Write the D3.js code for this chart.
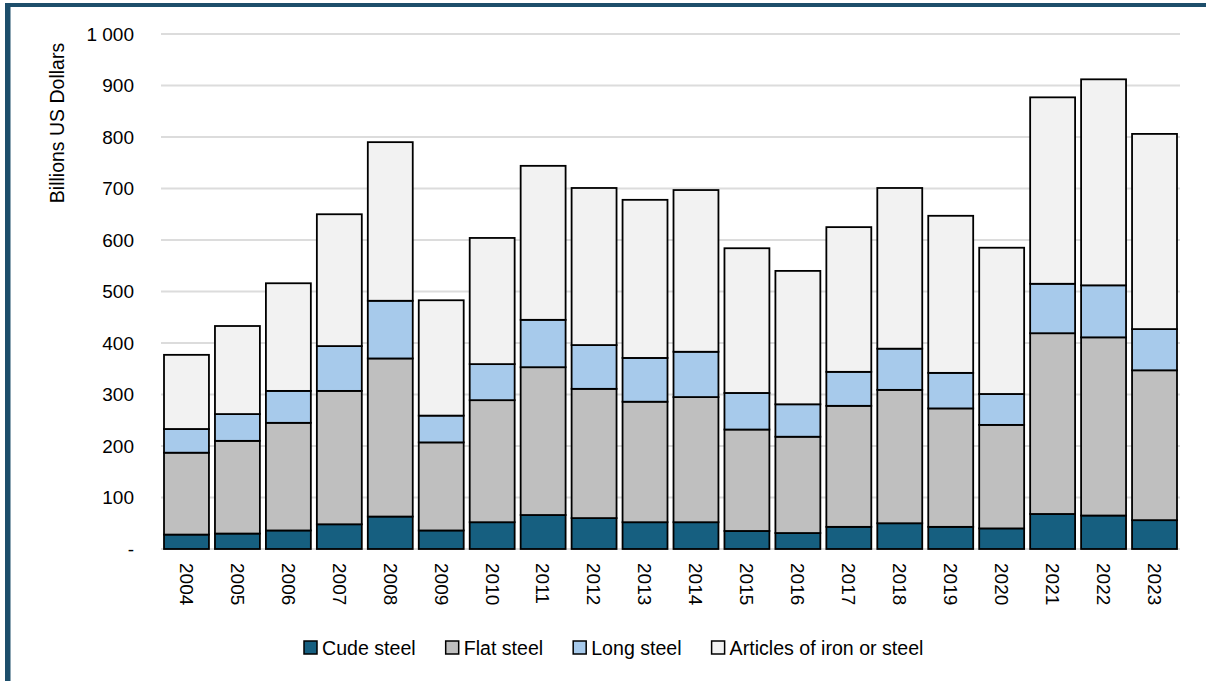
<!DOCTYPE html>
<html>
<head>
<meta charset="utf-8">
<script src="https://cdn.jsdelivr.net/npm/d3@7"></script>
<style>
  body { margin: 0; background: #fff; }
  svg { display: block; font-family: "Liberation Sans", Arial, sans-serif; }
</style>
</head>
<body>
<svg id="steel-chart" width="1206" height="681"></svg>
<script>
// ------------------ Steel exports by product type ------------------ //
const years = ["2004", "2005", "2006", "2007", "2008", "2009", "2010", "2011", "2012", "2013",
    "2014", "2015", "2016", "2017", "2018", "2019", "2020", "2021", "2022", "2023"];
const crudeSteel = [28, 30, 36, 48, 63, 36, 52, 66, 60, 52, 52, 35, 31, 43, 50, 43, 40, 68, 65, 56];
const flatSteel = [159, 180, 209, 259, 307, 171, 237, 287, 251, 234, 243, 197, 187, 235, 259, 230, 201, 351, 346, 291];
const longSteel = [46, 52, 62, 87, 112, 52, 70, 92, 85, 85, 88, 71, 63, 66, 80, 69, 60, 96, 101, 80];
const articles = [144, 171, 209, 256, 308, 224, 245, 299, 305, 307, 314, 281, 259, 281, 312, 305, 284, 362, 400, 379];
const seriesNames = ["Cude steel", "Flat steel", "Long steel", "Articles of iron or steel"];
const yTicks = [0, 100, 200, 300, 400, 500, 600, 700, 800, 900, 1000];

const svg = d3.select("#steel-chart"),
    width = +svg.attr("width"),
    height = +svg.attr("height"),
    margin = { top: 34, right: 26, bottom: 132, left: 161 },
    chartWidth = width - margin.left - margin.right,
    chartHeight = height - margin.top - margin.bottom;

// frame (top + left edges only)
svg.append("rect").attr("x", 0).attr("y", 0).attr("width", width).attr("height", height).attr("fill", "#fff");
svg.append("rect").attr("x", 5).attr("y", 3).attr("width", width - 5).attr("height", 4).attr("fill", "#1d4e6b");
svg.append("rect").attr("x", 5).attr("y", 3).attr("width", 5.5).attr("height", height - 3).attr("fill", "#1d4e6b");

const chart = svg.append("g")
    .attr("transform", `translate(${margin.left},${margin.top})`);

const tableData = years.map((yr, i) => ({
    year: yr,
    "Cude steel": crudeSteel[i],
    "Flat steel": flatSteel[i],
    "Long steel": longSteel[i],
    "Articles of iron or steel": articles[i]
}));

const stacked = d3.stack().keys(seriesNames)(tableData);

// Scales
const x = d3.scaleBand()
    .domain(years)
    .range([0, chartWidth])
    .paddingInner(0.118)
    .paddingOuter(0.059);

const y = d3.scaleLinear()
    .domain([0, 1000])
    .range([chartHeight, 0]);

const color = d3.scaleOrdinal()
    .domain(seriesNames)
    .range(["#165f80", "#bfbfbf", "#a7caeb", "#f2f2f2"]);

// gridlines
chart.append("g")
    .selectAll("line")
    .data(yTicks)
    .join("line")
    .attr("x1", 0)
    .attr("x2", chartWidth)
    .attr("y1", d => y(d))
    .attr("y2", d => y(d))
    .attr("stroke", "#dcdcdc")
    .attr("stroke-width", 2);

// Y axis labels
const yAxis = chart.append("g")
    .attr("transform", "translate(-27,0)")
    .call(d3.axisLeft(y).tickValues(yTicks).tickSize(0).tickPadding(0)
        .tickFormat(d => d === 0 ? "-" : d3.format(",")(d).replace(",", " ")));
yAxis.select(".domain").remove();
yAxis.selectAll("text")
    .style("font-size", "19px")
    .style("font-family", "Liberation Sans, Arial, sans-serif")
    .attr("fill", "#000");

// bars
chart.append("g")
    .selectAll("g")
    .data(stacked)
    .join("g")
    .attr("fill", d => color(d.key))
    .selectAll("rect")
    .data(d => d)
    .join("rect")
    .attr("x", d => x(d.data.year))
    .attr("y", d => y(d[1]))
    .attr("width", x.bandwidth())
    .attr("height", d => y(d[0]) - y(d[1]))
    .attr("stroke", "#000")
    .attr("stroke-width", 1.8);

// X axis labels (rotated)
const xAxis = chart.append("g")
    .attr("transform", `translate(0,${chartHeight + 14})`)
    .call(d3.axisBottom(x).tickSize(0).tickPadding(0));
xAxis.select(".domain").remove();
xAxis.selectAll("text")
    .attr("transform", "rotate(90)")
    .attr("x", 0)
    .attr("y", 0)
    .attr("dy", "0.35em")
    .attr("text-anchor", "start")
    .style("font-size", "19px")
    .style("font-family", "Liberation Sans, Arial, sans-serif")
    .attr("fill", "#000");

// Y axis title
svg.append("text")
    .attr("transform", "translate(64,123) rotate(-90)")
    .attr("text-anchor", "middle")
    .style("font-size", "19.5px")
    .text("Billions US Dollars");

// Legend
const legend = svg.append("g")
    .attr("transform", "translate(304,641)");

let offset = 0;
seriesNames.forEach(key => {
    const g = legend.append("g").attr("transform", `translate(${offset},0)`);
    g.append("rect")
        .attr("width", 13)
        .attr("height", 13)
        .attr("fill", color(key))
        .attr("stroke", "#000")
        .attr("stroke-width", 1.5);
    const t = g.append("text")
        .attr("x", 18)
        .attr("y", 13.5)
        .style("font-size", "19.6px")
        .text(key);
    offset += 18 + t.node().getComputedTextLength() + 30;
});
</script>
</body>
</html>
